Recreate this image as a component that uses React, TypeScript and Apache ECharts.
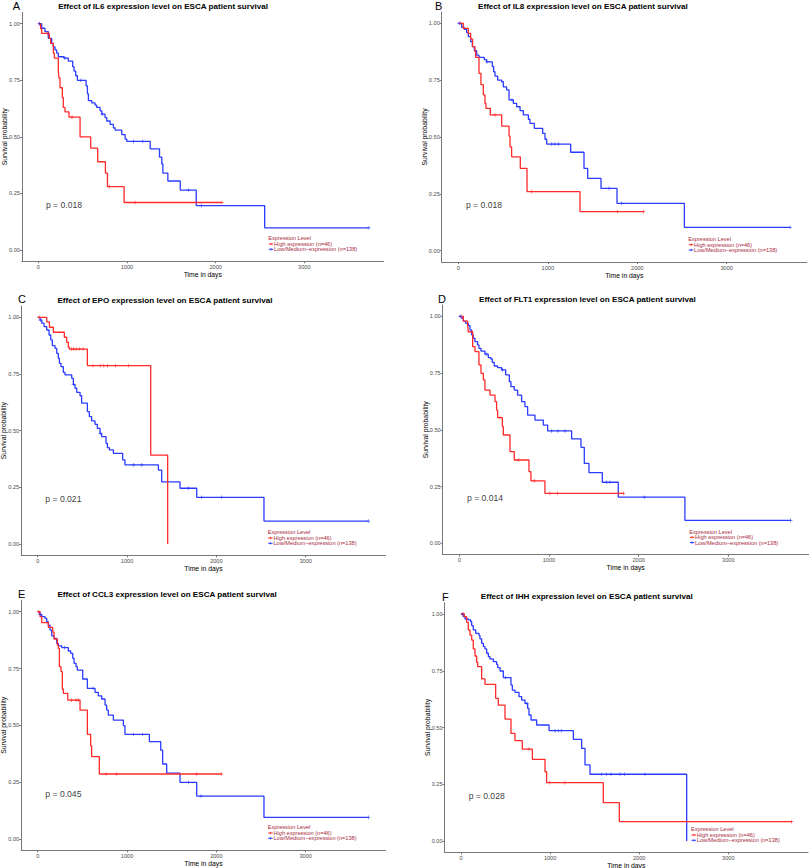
import React, { useEffect, useRef } from "react";
import * as echarts from "echarts";

// ---------- DATA ----------
const GENES = ["IL6", "IL8", "EPO", "FLT1", "CCL3", "IHH"];
const LETTERS = ["A", "B", "C", "D", "E", "F"];
const P_VALUES = ["p = 0.018", "p = 0.018", "p = 0.021", "p = 0.014", "p = 0.045", "p = 0.028"];
const X_TICKS = [0, 1000, 2000, 3000];
const Y_TICKS = [0, 0.25, 0.5, 0.75, 1];
const HIGH_LABEL = "High expression (n=46)";
const LOW_LABEL = "Low/Medium\u2212expression (n=138)";
const LEGEND_TITLE = "Expression Level";
const P_POS = [80, 0.2];

// IL6
const IL6_HIGH_T = [0, 26, 38, 124, 139, 170, 181, 226, 233, 245, 271, 282, 301, 346, 471, 591, 670, 757, 780, 968, 2071];
const IL6_HIGH_S = [1, 0.978, 0.957, 0.935, 0.913, 0.87, 0.848, 0.79, 0.76, 0.717, 0.674, 0.63, 0.61, 0.587, 0.5, 0.45, 0.39, 0.34, 0.28, 0.21, 0.21];
const IL6_HIGH_C = [15, 102, 380, 800, 1092, 2071];
const IL6_LOW_T = [0, 38, 75, 113, 151, 169, 188, 207, 226, 290, 339, 388, 403, 422, 441, 539, 554, 565, 603, 640, 659, 697, 716, 753, 772, 810, 847, 866, 941, 979, 998, 1262, 1367, 1393, 1405, 1461, 1601, 1781, 2553, 3728];
const IL6_LOW_S = [1, 0.98, 0.965, 0.935, 0.913, 0.898, 0.884, 0.87, 0.854, 0.848, 0.835, 0.81, 0.79, 0.77, 0.75, 0.725, 0.69, 0.66, 0.65, 0.64, 0.63, 0.615, 0.6, 0.585, 0.57, 0.555, 0.54, 0.53, 0.51, 0.49, 0.48, 0.447, 0.41, 0.38, 0.34, 0.305, 0.265, 0.196, 0.098, 0.098];
const IL6_LOW_C = [15, 300, 480, 720, 1073, 1179, 1695, 1838, 3728];

// IL8
const IL8_HIGH_T = [0, 56, 112, 138, 160, 186, 194, 231, 253, 280, 298, 309, 358, 485, 567, 578, 596, 693, 768, 1360, 2069];
const IL8_HIGH_S = [1, 0.978, 0.956, 0.93, 0.897, 0.875, 0.85, 0.78, 0.73, 0.685, 0.648, 0.626, 0.597, 0.548, 0.504, 0.457, 0.413, 0.362, 0.26, 0.172, 0.172];
const IL8_HIGH_C = [20, 410, 820, 1781, 2069];
const IL8_LOW_T = [0, 37, 67, 93, 112, 138, 157, 179, 205, 231, 291, 317, 380, 395, 410, 440, 485, 503, 540, 567, 615, 652, 690, 727, 783, 801, 850, 943, 969, 988, 1256, 1405, 1446, 1595, 1774, 2527, 3708];
const IL8_LOW_S = [1, 0.982, 0.973, 0.959, 0.941, 0.919, 0.897, 0.88, 0.86, 0.85, 0.84, 0.83, 0.81, 0.787, 0.768, 0.75, 0.743, 0.72, 0.707, 0.663, 0.648, 0.633, 0.616, 0.597, 0.578, 0.56, 0.538, 0.516, 0.49, 0.469, 0.433, 0.362, 0.318, 0.274, 0.208, 0.103, 0.103];
const IL8_LOW_C = [10, 320, 600, 1044, 1080, 1118, 1685, 1826, 3708];

// EPO
const EPO_HIGH_T = [0, 101, 131, 175, 298, 325, 343, 354, 556, 1265, 1455];
const EPO_HIGH_S = [1, 0.98, 0.956, 0.934, 0.912, 0.89, 0.868, 0.86, 0.787, 0.392, 0];
const EPO_HIGH_C = [18, 380, 400, 430, 470, 510, 620, 700, 740, 780, 870, 1015];
const EPO_LOW_T = [0, 26, 45, 71, 101, 127, 146, 164, 194, 213, 231, 243, 261, 287, 306, 381, 399, 418, 437, 474, 492, 556, 578, 604, 642, 668, 698, 716, 765, 780, 802, 847, 951, 977, 1351, 1388, 1593, 1780, 2533, 3701];
const EPO_LOW_S = [1, 0.988, 0.974, 0.959, 0.944, 0.922, 0.9, 0.875, 0.863, 0.841, 0.819, 0.797, 0.782, 0.757, 0.746, 0.731, 0.704, 0.687, 0.669, 0.654, 0.621, 0.584, 0.562, 0.543, 0.528, 0.51, 0.488, 0.474, 0.444, 0.425, 0.415, 0.4, 0.371, 0.349, 0.326, 0.274, 0.246, 0.206, 0.101, 0.101];
const EPO_LOW_C = [30, 400, 700, 1071, 1164, 1686, 1836, 2060, 3701];

// FLT1
const FLT1_HIGH_T = [0, 45, 93, 100, 149, 175, 219, 242, 268, 286, 342, 398, 416, 427, 480, 491, 565, 613, 777, 799, 955, 1829];
const FLT1_HIGH_S = [1, 0.979, 0.962, 0.932, 0.866, 0.844, 0.786, 0.749, 0.72, 0.675, 0.653, 0.624, 0.587, 0.554, 0.514, 0.477, 0.404, 0.367, 0.316, 0.275, 0.22, 0.22];
const FLT1_HIGH_C = [20, 453, 658, 836, 1011, 1097, 1773, 1829];
const FLT1_LOW_T = [0, 26, 45, 71, 100, 119, 138, 156, 175, 204, 219, 242, 286, 323, 353, 368, 390, 427, 472, 517, 558, 576, 613, 650, 695, 732, 762, 844, 937, 985, 1253, 1357, 1394, 1446, 1595, 1773, 2516, 3695];
const FLT1_LOW_S = [1, 0.991, 0.979, 0.969, 0.959, 0.94, 0.918, 0.903, 0.888, 0.874, 0.859, 0.847, 0.833, 0.818, 0.812, 0.797, 0.781, 0.774, 0.764, 0.742, 0.712, 0.69, 0.675, 0.653, 0.624, 0.602, 0.565, 0.543, 0.521, 0.495, 0.46, 0.423, 0.352, 0.311, 0.269, 0.203, 0.101, 0.101];
const FLT1_LOW_C = [10, 300, 480, 1030, 1100, 1178, 1643, 1680, 2063, 3695];

// CCL3
const CCL3_HIGH_T = [0, 26, 45, 119, 168, 183, 220, 231, 243, 261, 276, 287, 336, 474, 556, 593, 604, 690, 2060];
const CCL3_HIGH_S = [1, 0.978, 0.952, 0.931, 0.91, 0.88, 0.853, 0.839, 0.758, 0.736, 0.66, 0.641, 0.611, 0.567, 0.46, 0.41, 0.362, 0.286, 0.286];
const CCL3_HIGH_C = [10, 380, 430, 455, 765, 884, 1780, 2060];
const CCL3_LOW_T = [0, 19, 45, 82, 101, 119, 138, 157, 183, 213, 231, 269, 343, 369, 392, 407, 429, 444, 504, 556, 642, 679, 716, 754, 772, 791, 847, 959, 977, 1250, 1377, 1399, 1444, 1593, 1780, 2533, 3701];
const CCL3_LOW_S = [1, 0.988, 0.978, 0.971, 0.956, 0.941, 0.919, 0.894, 0.883, 0.861, 0.85, 0.842, 0.827, 0.817, 0.795, 0.773, 0.758, 0.743, 0.704, 0.663, 0.645, 0.63, 0.616, 0.589, 0.567, 0.545, 0.523, 0.499, 0.46, 0.428, 0.391, 0.33, 0.29, 0.249, 0.189, 0.095, 0.095];
const CCL3_LOW_C = [30, 300, 620, 1071, 1175, 1686, 1828, 3701];

// IHH
const IHH_HIGH_T = [0, 37, 64, 82, 101, 120, 138, 157, 176, 187, 232, 269, 389, 419, 494, 561, 606, 688, 801, 943, 961, 1597, 1777, 3711];
const IHH_HIGH_S = [1, 0.988, 0.963, 0.93, 0.907, 0.885, 0.846, 0.815, 0.787, 0.768, 0.714, 0.69, 0.628, 0.599, 0.537, 0.474, 0.442, 0.405, 0.36, 0.305, 0.257, 0.169, 0.085, 0.085];
const IHH_HIGH_C = [26, 763, 991, 1167, 3711];
const IHH_LOW_T = [0, 26, 45, 82, 108, 120, 138, 165, 202, 213, 232, 251, 269, 288, 307, 325, 363, 400, 412, 438, 475, 561, 576, 606, 651, 681, 718, 748, 763, 786, 849, 988, 1261, 1354, 1392, 1448, 2533];
const IHH_LOW_S = [1, 0.988, 0.978, 0.974, 0.966, 0.949, 0.93, 0.915, 0.905, 0.89, 0.871, 0.857, 0.846, 0.827, 0.812, 0.802, 0.79, 0.778, 0.764, 0.749, 0.72, 0.687, 0.665, 0.655, 0.636, 0.621, 0.606, 0.584, 0.555, 0.533, 0.511, 0.486, 0.448, 0.408, 0.335, 0.294, 0];
const IHH_LOW_C = [15, 500, 740, 1055, 1092, 1130, 1579, 1635, 1683, 1785, 1833, 2065];

const CURVES = [
  { hT: IL6_HIGH_T, hS: IL6_HIGH_S, hC: IL6_HIGH_C, lT: IL6_LOW_T, lS: IL6_LOW_S, lC: IL6_LOW_C },
  { hT: IL8_HIGH_T, hS: IL8_HIGH_S, hC: IL8_HIGH_C, lT: IL8_LOW_T, lS: IL8_LOW_S, lC: IL8_LOW_C },
  { hT: EPO_HIGH_T, hS: EPO_HIGH_S, hC: EPO_HIGH_C, lT: EPO_LOW_T, lS: EPO_LOW_S, lC: EPO_LOW_C },
  { hT: FLT1_HIGH_T, hS: FLT1_HIGH_S, hC: FLT1_HIGH_C, lT: FLT1_LOW_T, lS: FLT1_LOW_S, lC: FLT1_LOW_C },
  { hT: CCL3_HIGH_T, hS: CCL3_HIGH_S, hC: CCL3_HIGH_C, lT: CCL3_LOW_T, lS: CCL3_LOW_S, lC: CCL3_LOW_C },
  { hT: IHH_HIGH_T, hS: IHH_HIGH_S, hC: IHH_HIGH_C, lT: IHH_LOW_T, lS: IHH_LOW_S, lC: IHH_LOW_C },
];

// ---------- LAYOUT (pixels) ----------
const X_MIN = -185;
const X_MAX = 3895;
const Y_MIN = -0.05;
const Y_MAX = 1.05;
const LAYOUT = [
  { x0: 38.3, per: 88.67, y1: 23.7, y0: 250, lx: 12.7, ly: 5.5 },
  { x0: 458.3, per: 89.47, y1: 23.3, y0: 250.7, lx: 435, ly: 5.5 },
  { x0: 37.7, per: 89.33, y1: 317.3, y0: 544, lx: 18, ly: 298.5 },
  { x0: 459.3, per: 89.67, y1: 316.3, y0: 543.3, lx: 438, ly: 298.5 },
  { x0: 37.7, per: 89.33, y1: 611.7, y0: 839, lx: 18, ly: 594 },
  { x0: 461, per: 89.1, y1: 614, y0: 841, lx: 442, ly: 596.5 },
];

const RED = "#ff2a2a";
const BLUE = "#2b3cff";
const LEG_COLOR = "#a8283c";
const AXIS_COLOR = "#777777";
const FONT = "Liberation Sans, Arial, Helvetica, sans-serif";
const PLUS = "path://M4,0H6V4H10V6H6V10H4V6H0V4H4Z";

function survAt(T: number[], S: number[], t: number): number {
  let v = S[0];
  for (let i = 0; i < T.length; i++) {
    if (T[i] <= t) v = S[i];
    else break;
  }
  return v;
}

function buildOption() {
  const grids: any[] = [];
  const xAxes: any[] = [];
  const yAxes: any[] = [];
  const series: any[] = [];
  const graphics: any[] = [];

  LAYOUT.forEach((L, i) => {
    const left = L.x0 + (X_MIN / 1000) * L.per;
    const width = ((X_MAX - X_MIN) / 1000) * L.per;
    const ppu = L.y0 - L.y1;
    const top = L.y1 - (Y_MAX - 1) * ppu;
    const height = (Y_MAX - Y_MIN) * ppu;
    grids.push({ left, top, width, height, containLabel: false, outerBoundsMode: "none" });

    xAxes.push({
      gridIndex: i,
      type: "value",
      min: X_MIN,
      max: X_MAX,
      axisLine: { show: true, onZero: false, lineStyle: { color: AXIS_COLOR, width: 1 } },
      axisTick: { show: true, length: 2, customValues: X_TICKS, lineStyle: { color: AXIS_COLOR } },
      axisLabel: {
        customValues: X_TICKS,
        fontSize: 5.6,
        color: "#4d4d4d",
        margin: 2.5,
        fontFamily: FONT,
        formatter: (v: number) => String(v),
      },
      splitLine: { show: false },
      name: "Time in days",
      nameLocation: "middle",
      nameGap: 9.5,
      nameMoveOverlap: false,
      nameTextStyle: { fontSize: 6.8, color: "#000", fontFamily: FONT },
    });
    yAxes.push({
      gridIndex: i,
      type: "value",
      min: Y_MIN,
      max: Y_MAX,
      axisLine: { show: true, onZero: false, lineStyle: { color: AXIS_COLOR, width: 1 } },
      axisTick: { show: true, length: 2, customValues: Y_TICKS, lineStyle: { color: AXIS_COLOR } },
      axisLabel: {
        customValues: Y_TICKS,
        fontSize: 5.6,
        color: "#4d4d4d",
        margin: 2,
        fontFamily: FONT,
        formatter: (v: number) => v.toFixed(2),
      },
      splitLine: { show: false },
      name: "Survival probability",
      nameLocation: "middle",
      nameGap: 14,
      nameMoveOverlap: false,
      nameTextStyle: { fontSize: 6.8, color: "#000", fontFamily: FONT },
    });

    const C = CURVES[i];
    series.push({
      name: HIGH_LABEL,
      type: "line",
      xAxisIndex: i,
      yAxisIndex: i,
      step: "end",
      symbol: "none",
      silent: true,
      lineStyle: { color: RED, width: 1.3 },
      itemStyle: { color: RED },
      data: C.hT.map((t, k) => [t, C.hS[k]]),
      z: 3,
    });
    series.push({
      name: LOW_LABEL,
      type: "line",
      xAxisIndex: i,
      yAxisIndex: i,
      step: "end",
      symbol: "none",
      silent: true,
      lineStyle: { color: BLUE, width: 1.3 },
      itemStyle: { color: BLUE },
      data: C.lT.map((t, k) => [t, C.lS[k]]),
      z: 2,
    });
    series.push({
      type: "scatter",
      xAxisIndex: i,
      yAxisIndex: i,
      symbol: PLUS,
      symbolSize: 3.6,
      silent: true,
      itemStyle: { color: RED },
      data: C.hC.map((t) => [t, survAt(C.hT, C.hS, t)]),
      z: 4,
    });
    series.push({
      type: "scatter",
      xAxisIndex: i,
      yAxisIndex: i,
      symbol: PLUS,
      symbolSize: 3.6,
      silent: true,
      itemStyle: { color: BLUE },
      data: C.lC.map((t) => [t, survAt(C.lT, C.lS, t)]),
      z: 4,
    });
    series.push({
      type: "scatter",
      xAxisIndex: i,
      yAxisIndex: i,
      symbolSize: 1,
      silent: true,
      itemStyle: { color: "rgba(0,0,0,0)" },
      label: {
        show: true,
        position: "right",
        distance: 0,
        formatter: P_VALUES[i],
        fontSize: 8.6,
        color: "#000",
        fontFamily: FONT,
      },
      data: [P_POS],
    });

    // panel letter
    graphics.push({
      type: "text",
      x: L.lx,
      y: L.ly,
      style: { text: LETTERS[i], fontSize: 11, fontFamily: FONT, fill: "#000", verticalAlign: "middle", align: "left" },
    });
    // title
    graphics.push({
      type: "text",
      x: left + 36.3,
      y: top - 5.7,
      style: {
        text: `Effect of ${GENES[i]} expression level on ESCA patient survival`,
        fontSize: 8.1,
        fontWeight: "bold",
        fontFamily: FONT,
        fill: "#000",
        verticalAlign: "middle",
        align: "left",
      },
    });
    // legend
    const lgx = L.x0 + 230;
    graphics.push({
      type: "text",
      x: lgx,
      y: L.y0 - 11.7,
      style: { text: LEGEND_TITLE, fontSize: 5.6, fontFamily: FONT, fill: LEG_COLOR, verticalAlign: "middle", align: "left" },
    });
    [
      { label: HIGH_LABEL, color: RED, dy: -6 },
      { label: LOW_LABEL, color: BLUE, dy: -0.7 },
    ].forEach((it) => {
      const yy = L.y0 + it.dy;
      graphics.push({
        type: "line",
        shape: { x1: lgx + 0.5, y1: yy, x2: lgx + 5, y2: yy },
        style: { stroke: it.color, lineWidth: 1 },
      });
      graphics.push({
        type: "line",
        shape: { x1: lgx + 2.75, y1: yy - 1.2, x2: lgx + 2.75, y2: yy + 1.2 },
        style: { stroke: it.color, lineWidth: 0.8 },
      });
      graphics.push({
        type: "text",
        x: lgx + 5.8,
        y: yy,
        style: { text: it.label, fontSize: 5.6, fontFamily: FONT, fill: LEG_COLOR, verticalAlign: "middle", align: "left" },
      });
    });
  });

  return {
    animation: false,
    backgroundColor: "#ffffff",
    grid: grids,
    xAxis: xAxes,
    yAxis: yAxes,
    series,
    graphic: graphics,
  };
}

export default function App() {
  const ref = useRef<HTMLDivElement>(null);
  useEffect(() => {
    document.body.style.margin = "0";
    if (!ref.current) return;
    const chart = echarts.init(ref.current, undefined, { renderer: "svg" });
    chart.setOption(buildOption() as any);
    return () => chart.dispose();
  }, []);
  return <div ref={ref} style={{ position: "absolute", left: 0, top: 0, width: 810, height: 868 }} />;
}
